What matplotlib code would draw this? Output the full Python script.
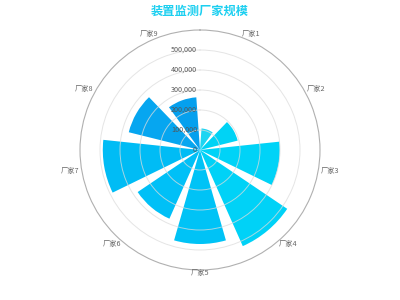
import matplotlib
matplotlib.use('Agg')
import matplotlib.pyplot as plt
import matplotlib.transforms as mtransforms
import numpy as np

plt.rcParams['font.family'] = ['Noto Sans CJK SC', 'DejaVu Sans']

# data
categories = ['厂家1', '厂家2', '厂家3', '厂家4', '厂家5', '厂家6', '厂家7', '厂家8', '厂家9']
values = [108000, 194000, 399000, 526000, 470000, 376000, 486000, 367000, 264000]
bar_colors = ['#1dd5f2', '#00d3f5', '#00d3f7', '#00d2f7', '#00c3f6', '#00c0f7', '#00bcf5', '#06a6f0', '#05a0ee']
r_ticks = [0, 100000, 200000, 300000, 400000, 500000]
r_max = 600000
title = '装置监测厂家规模'

fig = plt.figure(figsize=(4, 3), dpi=100)
ax = fig.add_axes([0.2, 0.1, 0.6, 0.8], projection='polar')
ax.set_theta_zero_location('N')
ax.set_theta_direction(-1)

n = len(categories)
step = 2 * np.pi / n
theta = np.arange(n) * step + step / 2

ax.bar(theta, values, width=np.deg2rad(32), color=bar_colors, bottom=0, zorder=1)

ax.set_ylim(0, r_max)
ax.set_yticks(r_ticks[1:])
ax.set_yticklabels([])
ax.set_xticks([])
ax.set_axisbelow(False)
ax.xaxis.grid(False)
ax.yaxis.grid(True, color='#dcdcdc', linewidth=0.7, alpha=0.75)
ax.spines['polar'].set_color('#b0b0b0')
ax.spines['polar'].set_linewidth(0.8)

# radial axis labels, right-aligned just left of the vertical axis
off = mtransforms.offset_copy(ax.transData, fig=fig, x=-3, y=0, units='dots')
for t in r_ticks:
    ax.text(0, t, f'{t:,}', transform=off, ha='right', va='center',
            fontsize=5.2, color='#555555', zorder=5)

# category labels around the outer ring
for ang, name in zip(theta, categories):
    s = np.sin(ang)
    ha = 'left' if s > 0.1 else ('right' if s < -0.1 else 'center')
    ax.text(ang, r_max * 123 / 120, name, ha=ha, va='center',
            fontsize=5.2, color='#666666', clip_on=False)

fig.text(0.5, 1 - 11 / 300, title, ha='center', va='center',
         fontsize=8.8, fontweight='bold', color='#1ccff0')

fig.savefig('out.png', dpi=100)
